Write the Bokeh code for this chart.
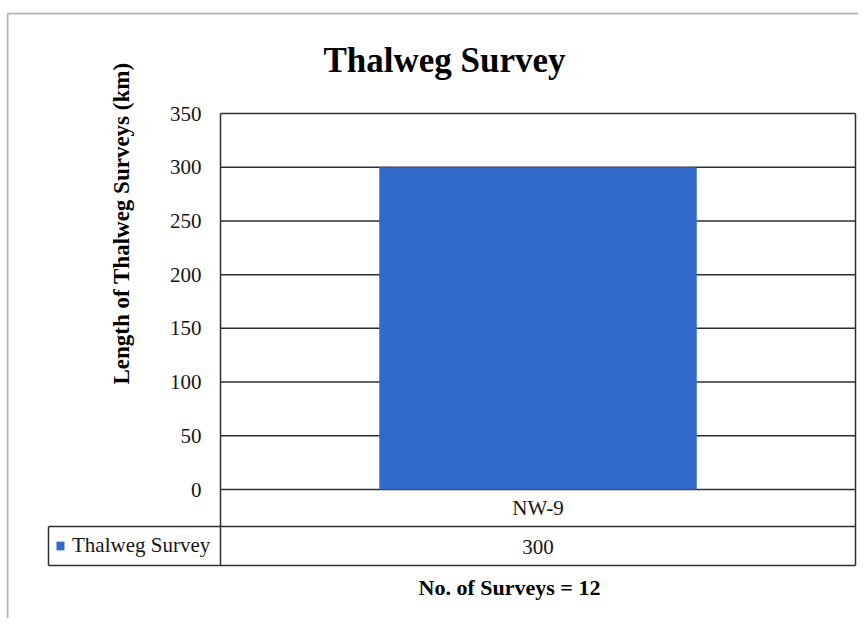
from math import pi
from bokeh.plotting import figure
from bokeh.models import Range1d, FixedTicker, Label, Legend, LegendItem, ColumnDataSource
from bokeh.embed import file_html
from bokeh.resources import INLINE

# ---- data ----
categories = ["NW-9"]
series_name = "Thalweg Survey"
values = [300]
y_ticks = [0, 50, 100, 150, 200, 250, 300, 350]
title_text = "Thalweg Survey"
y_title = "Length of Thalweg Surveys (km)"
x_title = "No. of Surveys = 12"

FONT = "Liberation Serif"
BAR = "#306ACA"
LINE = "#2e2e2e"
FRAME_GREY = "#b2b2b2"
TXT = "#151515"

# ---- layout (pixels) ----
W, H = 858, 618
L, T = 6, 12             # frame left / top (axes are pinned inside, no side panels)
X0, X1 = 220, 855        # plot area left / right
Y0, YTOP = 489, 113      # value 0 / top value
ROW1, ROW2 = 526, 565    # data-table row bottoms
TAB_L = 48               # data-table left edge
BORDER_X, BORDER_Y = 7, 13
YMAX = y_ticks[-1]

def dx(px):
    return (px - X0) / (X1 - X0)

def dy(py):
    return (Y0 - py) * YMAX / (Y0 - YTOP)

p = figure(width=W, height=H, output_backend="svg", toolbar_location=None,
           x_range=Range1d(dx(L), dx(W)), y_range=Range1d(dy(H), dy(T)),
           min_border_left=L, min_border_right=0,
           min_border_top=T, min_border_bottom=0)
p.background_fill_color = "white"
p.border_fill_color = "white"
p.outline_line_color = None
p.xgrid.grid_line_color = None
p.ygrid.grid_line_color = None

xpos = [i + 0.5 for i in range(len(categories))]

# light grey chart-area border (left and top)
p.segment(x0=[dx(BORDER_X), dx(BORDER_X)], x1=[dx(BORDER_X), dx(W)],
          y0=[dy(BORDER_Y), dy(BORDER_Y)], y1=[dy(H), dy(BORDER_Y)],
          line_color=FRAME_GREY, line_width=2)

# grid lines of the plot area
p.segment(x0=[0] * len(y_ticks), x1=[1] * len(y_ticks), y0=y_ticks, y1=y_ticks,
          line_color=LINE, line_width=1.5)

# bar
src = ColumnDataSource(dict(x=xpos, top=values, cat=categories))
bar = p.vbar(x="x", top="top", width=0.5, source=src, fill_color=BAR, line_color=None)

# plot-area sides and data table lines
p.segment(x0=[0, 1, dx(TAB_L), dx(TAB_L), dx(TAB_L)],
          x1=[0, 1, 1, 1, dx(TAB_L)],
          y0=[YMAX, YMAX, dy(ROW1), dy(ROW2), dy(ROW1)],
          y1=[dy(ROW2), dy(ROW2), dy(ROW1), dy(ROW2), dy(ROW2)],
          line_color=LINE, line_width=1.5)

# value row of the data table
p.text(x=xpos, y=[dy(546)] * len(values), text=[str(v) for v in values],
       text_font={"value": FONT}, text_font_size="21px", text_color=TXT,
       text_align="center", text_baseline="middle")

# y axis pinned at the plot-area edge
p.yaxis.fixed_location = 0
p.yaxis.ticker = FixedTicker(ticks=y_ticks)
p.yaxis.axis_line_color = None
p.yaxis.major_tick_line_color = None
p.yaxis.minor_tick_line_color = None
p.yaxis.major_label_standoff = 13
p.yaxis.major_label_text_font = FONT
p.yaxis.major_label_text_font_size = "21px"
p.yaxis.major_label_text_color = TXT

# category axis pinned at value 0: its labels fill the first data-table row
p.xaxis.fixed_location = 0
p.xaxis.ticker = FixedTicker(ticks=xpos)
p.xaxis.major_label_overrides = {x: c for x, c in zip(xpos, categories)}
p.xaxis.axis_line_color = None
p.xaxis.major_tick_line_color = None
p.xaxis.minor_tick_line_color = None
p.xaxis.major_label_standoff = 0
p.xaxis.major_label_text_font = FONT
p.xaxis.major_label_text_font_size = "21px"
p.xaxis.major_label_text_color = TXT

# legend key in the data table
legend = Legend(items=[LegendItem(label=series_name, renderers=[bar])],
                location=(55 - L, H - 558), padding=0, margin=0, spacing=0,
                glyph_width=10, glyph_height=11, label_standoff=7,
                label_text_font=FONT, label_text_font_size="21px",
                label_text_color=TXT, border_line_color=None,
                background_fill_alpha=0)
p.add_layout(legend)

def label(px, py, text, size, bold=False, baseline="middle", angle=0):
    p.add_layout(Label(x=dx(px), y=dy(py), text=text,
                       text_font=FONT, text_font_size=size,
                       text_font_style="bold" if bold else "normal",
                       text_align="center", text_baseline=baseline, angle=angle,
                       text_color="#000000"))

label(444, 60, title_text, "35px", bold=True, baseline="alphabetic")
label(121, 223, y_title, "23px", bold=True, angle=pi / 2)
label(509, 587, x_title, "22px", bold=True, baseline="alphabetic")

open("out.html", "w").write(file_html(p, INLINE))
